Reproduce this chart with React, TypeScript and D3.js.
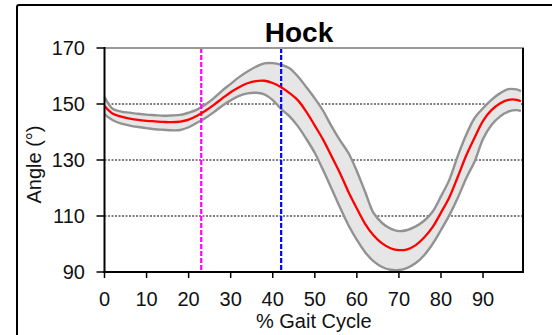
import React from "react";
import * as d3 from "d3";

const gaitPct = [0, 2, 4, 6, 8, 10, 12, 14, 16, 18, 20, 22, 24, 26, 28, 30, 32, 34, 36, 38, 40, 42, 44, 46, 48, 50, 52, 54, 56, 58, 60, 62, 64, 66, 68, 70, 72, 74, 76, 78, 80, 82, 84, 86, 88, 90, 92, 94, 96, 98, 99];
const meanAngle = [149.3, 146.5, 145.5, 144.8, 144.3, 144.0, 143.8, 143.6, 143.5, 143.7, 144.4, 145.8, 147.6, 149.7, 152.0, 154.2, 156.0, 157.4, 158.2, 158.3, 157.5, 156.0, 153.9, 151.3, 147.2, 142.3, 137.2, 131.3, 125.3, 118.6, 112.7, 107.1, 103.0, 100.2, 98.5, 97.8, 98.1, 99.6, 102.3, 106.0, 111.2, 116.7, 124.0, 131.6, 138.0, 144.0, 147.8, 150.2, 151.5, 151.5, 151.0];
const upperAngle = [152.5, 148.2, 147.3, 146.9, 146.5, 146.2, 146.0, 145.8, 145.9, 146.1, 146.9, 148.0, 149.8, 152.1, 154.8, 157.2, 159.6, 161.6, 163.3, 164.5, 164.6, 164.0, 162.8, 159.8, 156.0, 152.0, 147.5, 142.0, 137.0, 132.5, 126.0, 118.5, 111.0, 107.5, 105.5, 104.6, 105.0, 106.3, 108.3, 111.5, 117.0, 123.0, 131.5, 139.0, 145.0, 148.5, 151.5, 153.8, 155.3, 155.2, 154.6];
const lowerAngle = [146.3, 144.2, 143.0, 142.3, 141.8, 141.4, 141.0, 140.8, 140.6, 140.7, 141.7, 143.3, 145.0, 147.1, 149.4, 151.3, 152.9, 153.8, 154.0, 153.4, 151.4, 148.2, 145.6, 142.0, 137.5, 132.5, 126.3, 119.7, 113.0, 106.7, 101.5, 97.0, 93.8, 91.8, 90.8, 90.7, 91.5, 93.2, 96.0, 100.0, 105.0, 110.3, 116.5, 123.5, 129.5, 137.5, 142.5, 145.5, 147.3, 147.8, 147.5];

const xTicks = [0, 10, 20, 30, 40, 50, 60, 70, 80, 90];
const yTicks = [90, 110, 130, 150, 170];
const gridValues = [110, 130, 150];
const toeOffPct = 23;
const eventPct = 42;

const titleText = "Hock";
const xTitle = "% Gait Cycle";
const yTitle = "Angle (°)";

const FONT = "'Liberation Sans', Arial, sans-serif";

export default function App() {
  const W = 552;
  const H = 335;
  const x = d3.scaleLinear().domain([0, 99.5]).range([104.5, 523]);
  const y = d3.scaleLinear().domain([90, 170]).range([272, 48]);
  const [x0, x1] = x.range();
  const [yb, yt] = y.range();

  const idx = gaitPct.map((_, i) => i);
  const curve = d3.curveCatmullRom.alpha(0.5);
  const area = d3
    .area<number>()
    .x((i) => x(gaitPct[i]))
    .y0((i) => y(lowerAngle[i]))
    .y1((i) => y(upperAngle[i]))
    .curve(curve);
  const lineOf = (arr: number[]) =>
    d3
      .line<number>()
      .x((i) => x(gaitPct[i]))
      .y((i) => y(arr[i]))
      .curve(curve)(idx) as string;

  return (
    <svg
      width={W}
      height={H}
      style={{ position: "absolute", left: 0, top: 0, background: "#fff" }}
    >
      <rect x={0} y={0} width={W} height={H} fill="#fff" />
      {/* outer frame */}
      <rect x={17} y={5} width={W} height={H} rx={2} fill="none" stroke="#000" strokeWidth={2} />

      {/* gridlines */}
      {gridValues.map((v) => (
        <line
          key={v}
          x1={x0}
          x2={x1}
          y1={y(v)}
          y2={y(v)}
          stroke="#000"
          strokeWidth={1}
          strokeDasharray="2,1.5"
        />
      ))}

      {/* band */}
      <path d={area(idx) as string} fill="#e6e6e6" />
      <path d={lineOf(upperAngle)} fill="none" stroke="#929292" strokeWidth={2.4} />
      <path d={lineOf(lowerAngle)} fill="none" stroke="#929292" strokeWidth={2.4} />

      {/* event lines */}
      <line x1={x(toeOffPct)} x2={x(toeOffPct)} y1={yt} y2={yb} stroke="#ff00ff" strokeWidth={2.2} strokeDasharray="5,2" />
      <line x1={x(eventPct)} x2={x(eventPct)} y1={yt} y2={yb} stroke="#0000ff" strokeWidth={2.2} strokeDasharray="5,2" />

      {/* mean */}
      <path d={lineOf(meanAngle)} fill="none" stroke="#ff0000" strokeWidth={2.3} />

      {/* plot borders */}
      <line x1={x0} x2={x1 + 1} y1={yt} y2={yt} stroke="#999" strokeWidth={2} />
      <line x1={x1} x2={x1} y1={yt} y2={yb} stroke="#000" strokeWidth={2} />
      <line x1={x0} x2={x0} y1={yt - 1} y2={yb + 1} stroke="#000" strokeWidth={2} />
      <line x1={x0 - 1} x2={x1 + 1} y1={yb} y2={yb} stroke="#000" strokeWidth={2} />

      {/* y ticks & labels */}
      {yTicks.map((v) => (
        <g key={v}>
          <line x1={x0 - 8} x2={x0} y1={y(v)} y2={y(v)} stroke="#000" strokeWidth={1.5} />
          <text x={85} y={y(v) + 7} textAnchor="end" fontFamily={FONT} fontSize={20} fill="#111">
            {v}
          </text>
        </g>
      ))}

      {/* x ticks & labels */}
      {xTicks.map((v) => (
        <g key={v}>
          <line x1={x(v)} x2={x(v)} y1={yb} y2={yb + 6} stroke="#000" strokeWidth={1.5} />
          <text x={x(v)} y={306} textAnchor="middle" fontFamily={FONT} fontSize={20} fill="#111">
            {v}
          </text>
        </g>
      ))}

      {/* titles */}
      <text x={299} y={42} textAnchor="middle" fontFamily={FONT} fontSize={28} fontWeight="bold" fill="#000">
        {titleText}
      </text>
      <text x={(x0 + x1) / 2} y={328} textAnchor="middle" fontFamily={FONT} fontSize={20} fill="#111">
        {xTitle}
      </text>
      <text
        transform={`translate(41, 164.5) rotate(-90)`}
        textAnchor="middle"
        fontFamily={FONT}
        fontSize={20}
        fill="#111"
      >
        {yTitle}
      </text>
    </svg>
  );
}
